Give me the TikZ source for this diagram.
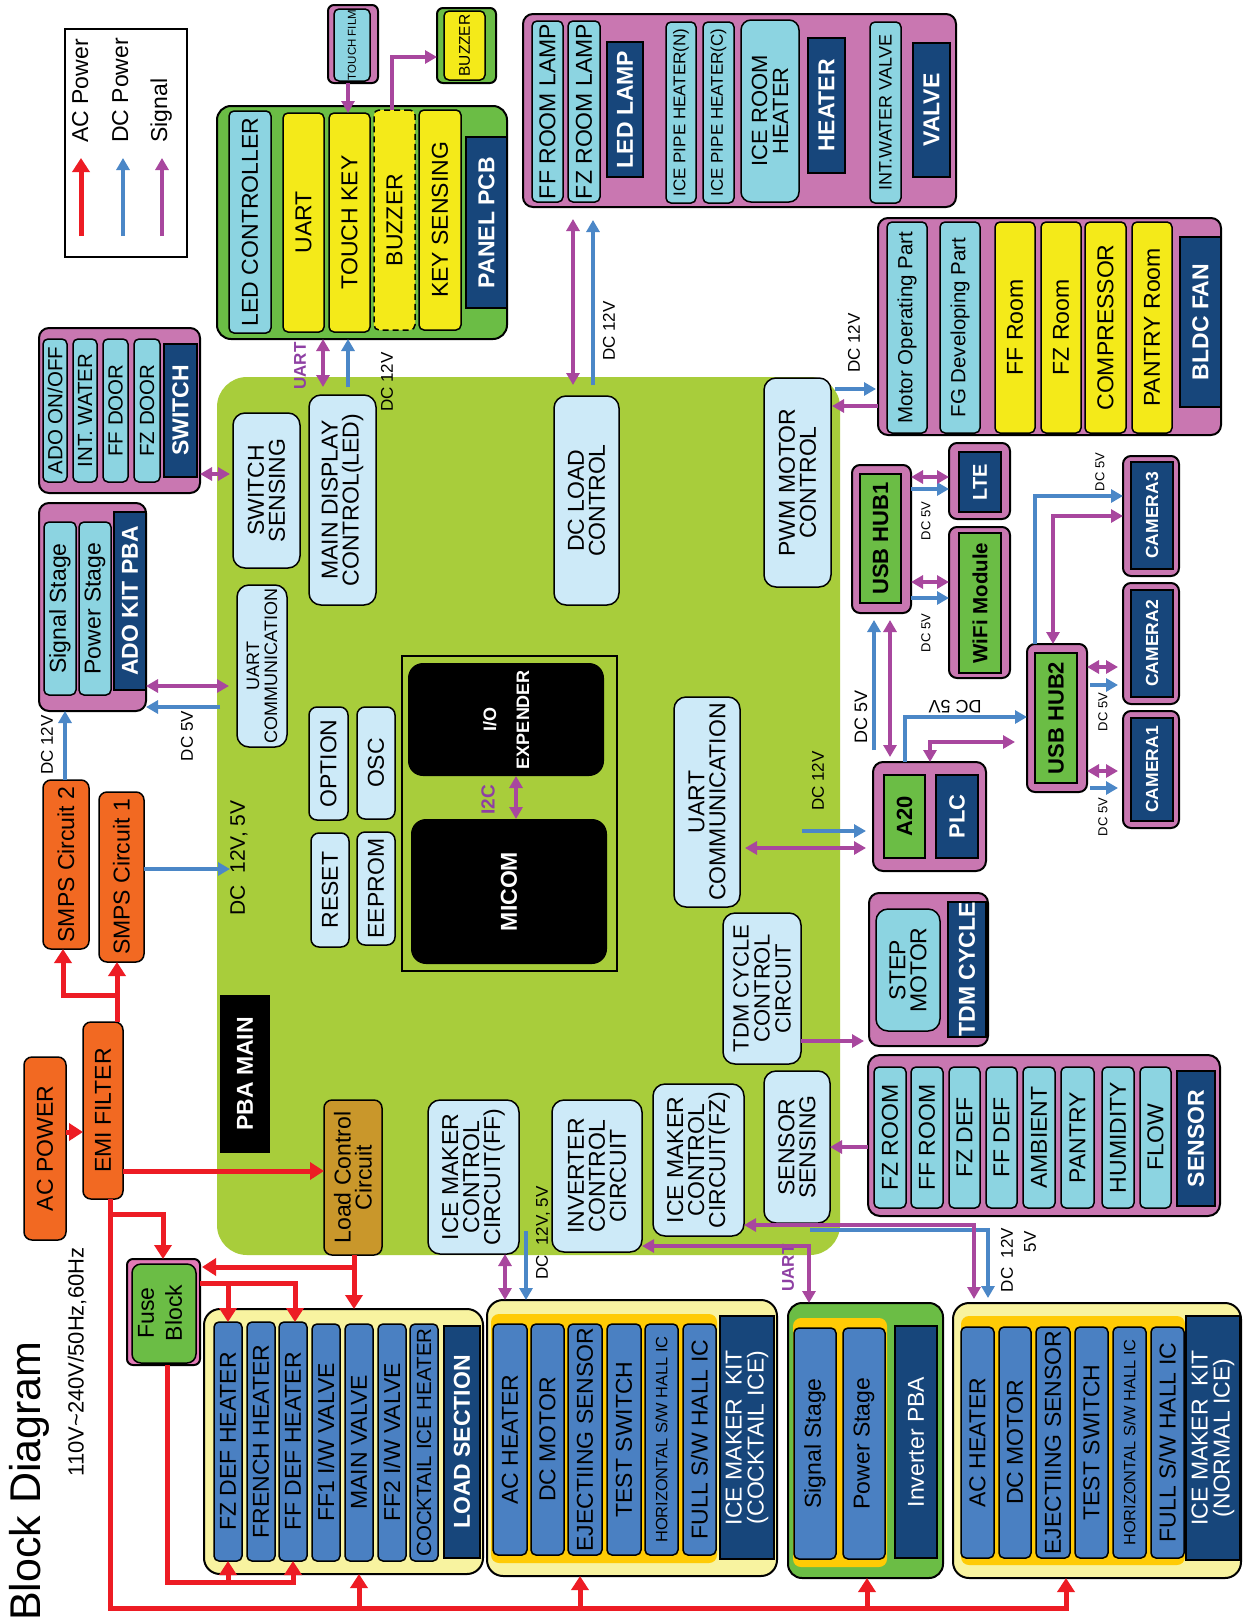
\documentclass[tikz,border=0pt]{standalone}
\usepackage{fontspec}
\setmainfont{Liberation Sans}
\usetikzlibrary{arrows.meta}
\newcommand\fs[2]{\fontsize{#1pt}{#2pt}\selectfont}
\newcommand\bb[6]{\node[#1,minimum width={#5pt-#3pt},minimum height={#6pt-#4pt}] (#2) at ({(#3+#5)/2},{(#4+#6)/2}) {};}
\newcommand\bx[8]{\bb{#1}{#2}{#3}{#4}{#5}{#6}\node[stx,#7] (#2-t) at (#2.center) {#8};}
\definecolor{cpur}{HTML}{C977B1}
\definecolor{ccyan}{HTML}{8CD4E1}
\definecolor{cnavy}{HTML}{17467B}
\definecolor{cyel}{HTML}{F4EA19}
\definecolor{cgrn}{HTML}{6BBD45}
\definecolor{cmain}{HTML}{A8CD3B}
\definecolor{clb}{HTML}{CDEAF8}
\definecolor{corg}{HTML}{F26922}
\definecolor{cbrn}{HTML}{C9972B}
\definecolor{clyel}{HTML}{F8F3A0}
\definecolor{cgold}{HTML}{FFCB05}
\definecolor{cibl}{HTML}{4A80C2}
\definecolor{cred}{HTML}{ED1C24}
\definecolor{cabl}{HTML}{4B87C7}
\definecolor{capur}{HTML}{A8479E}
\definecolor{ctpur}{HTML}{8E3FA3}
\definecolor{cpink}{HTML}{E27AB6}
\tikzset{
 sbase/.style={draw=black,line width=1.5pt,inner sep=0pt,outer sep=0pt},
 scy/.style={sbase,fill=ccyan,rounded corners=5pt},
 sye/.style={sbase,fill=cyel,rounded corners=5pt},
 sib/.style={sbase,fill=cibl,rounded corners=5pt},
 slb/.style={sbase,fill=clb,rounded corners=12pt},
 slbs/.style={sbase,fill=clb,rounded corners=8pt},
 snv/.style={sbase,fill=cnavy},
 spu/.style={sbase,line width=2pt,fill=cpur,rounded corners=10pt},
 sgi/.style={sbase,fill=cgrn},
 sgo/.style={sbase,line width=2pt,fill=cgrn,rounded corners=12pt},
 sor/.style={sbase,fill=corg,rounded corners=8pt},
 sbr/.style={sbase,fill=cbrn,rounded corners=8pt},
 sbk/.style={inner sep=0pt,outer sep=0pt,fill=black},
 sbkr/.style={inner sep=0pt,outer sep=0pt,fill=black,rounded corners=15pt},
 sly/.style={sbase,line width=2pt,fill=clyel,rounded corners=16pt},
 sgd/.style={inner sep=0pt,outer sep=0pt,fill=cgold,rounded corners=8pt},
 spk/.style={sbase,line width=2pt,fill=cpink,rounded corners=6pt},
 smain/.style={inner sep=0pt,outer sep=0pt,fill=cmain,rounded corners=30pt},
 sfr/.style={draw=black,line width=2pt,inner sep=0pt,outer sep=0pt},
 slg/.style={draw=black,line width=2pt,fill=white,inner sep=0pt,outer sep=0pt},
 stx/.style={rotate=90,align=center,inner sep=0pt,text=black},
 f23/.style={font=\fs{23}{21}},
 f22/.style={font=\fs{22}{21}},
 f20/.style={font=\fs{20.5}{20}},
 f18/.style={font=\fs{18}{18}},
 f17/.style={font=\fs{17}{17}},
 f16/.style={font=\fs{16.4}{16}},
 w23/.style={font=\fs{23}{21}\bfseries,text=white},
 w22/.style={font=\fs{22}{21}\bfseries,text=white},
 w20/.style={font=\fs{20}{20}\bfseries,text=white},
 w17/.style={font=\fs{17.5}{17}\bfseries,text=white},
 wr23/.style={font=\fs{23}{22},text=white},
 b22/.style={font=\fs{22}{21}\bfseries},
 b20/.style={font=\fs{20.5}{20}\bfseries},
 lbl/.style={stx,font=\fs{17}{17}},
 lbm/.style={stx,font=\fs{18}{18}},
 sml/.style={stx,font=\fs{13}{13}},
 ulb/.style={stx,font=\fs{17}{17}\bfseries,text=ctpur},
 arS/.style={draw=capur,line width=4pt,>={Triangle[length=12pt,width=13pt]}},
 arD/.style={draw=cabl,line width=4pt,>={Triangle[length=12pt,width=13pt]}},
 arA/.style={draw=cred,line width=5pt,>={Triangle[length=14pt,width=17pt]}},
}
\begin{document}
\begin{tikzpicture}[x=1pt,y=-1pt]
\fill[white] (0,0) rectangle (1248,1622);
\useasboundingbox (0,0) rectangle (1248,1622);

% ---------- main board ----------
\bb{smain}{mainbx}{217}{377}{840}{1255}

% ---------- legend ----------
\bb{slg}{lgbox}{65}{29}{187}{257}
\node[stx,f23,anchor=base west] (lgac) at (88,143) {AC Power};
\node[stx,f23,anchor=base west] (lgdc) at (128,143) {DC Power};
\node[stx,f23,anchor=base west] (lgsg) at (167,143) {Signal};
\draw[arA,->] (81,236) -- (81,158);
\draw[arD,->] (123,236) -- (123,158);
\draw[arS,->] (162,236) -- (162,158);

% ---------- panel pcb ----------
\bb{sgo,rounded corners=14pt}{pnl}{217}{106}{507}{339}
\bx{scy}{ledctl}{229}{111}{271}{333}{f23}{LED CONTROLLER}
\bx{sye}{uart}{283}{113}{324}{332}{f23}{UART}
\bx{sye}{tkey}{329}{113}{370}{332}{f23}{TOUCH KEY}
\bx{sye,dash pattern=on 6pt off 4pt}{buzz}{374}{110}{415}{330}{f23}{BUZZER}
\bx{sye}{ksens}{419}{110}{461}{330}{f23}{KEY SENSING}
\bx{snv}{pcbt}{466}{137}{507}{308}{w23}{PANEL PCB}
\bb{spu,rounded corners=6pt}{tfo}{328}{5}{378}{83}
\bx{scy}{tfi}{334}{9}{370}{81}{font=\fs{11.5}{11}}{TOUCH FILM}
\bb{sgo,rounded corners=6pt}{bzo}{437}{8}{496}{83}
\bx{sye}{bzi}{444}{11}{485}{80}{font=\fs{15.5}{15}}{BUZZER}

% ---------- switch ----------
\bb{spu}{swo}{39}{328}{200}{493}
\bx{scy}{sw1}{43}{339}{67}{482}{f20}{ADO ON/OFF}
\bx{scy}{sw2}{73}{339}{97}{482}{f20}{INT. WATER}
\bx{scy}{sw3}{103}{339}{128}{482}{f20}{FF DOOR}
\bx{scy}{sw4}{134}{339}{160}{482}{f20}{FZ DOOR}
\bx{snv}{swt}{164}{344}{197}{477}{w23}{SWITCH}

% ---------- ado kit ----------
\bb{spu}{adoo}{39}{503}{146}{711}
\bx{scy}{ado1}{44}{522}{76}{695}{f23}{Signal Stage}
\bx{scy}{ado2}{79}{522}{111}{695}{f23}{Power Stage}
\bx{snv}{adot}{114}{512}{146}{690}{w23}{ADO KIT PBA}

% ---------- power ----------
\bx{sor}{smps2}{43}{780}{89}{949}{f23}{SMPS Circuit 2}
\bx{sor}{smps1}{99}{792}{144}{962}{f23}{SMPS Circuit 1}
\bx{sor}{emi}{83}{1022}{123}{1199}{f23}{EMI FILTER}
\bx{sor}{acp}{24}{1057}{66}{1240}{f23}{AC POWER}

% ---------- main board contents ----------
\bx{sbk}{pbam}{220}{995}{270}{1153}{w23}{PBA MAIN}
\bx{sbr}{ldc}{324}{1100}{382}{1255}{f23}{Load Control\\Circuit}
\bx{slb}{swsens}{233}{413}{300}{568}{f23}{SWITCH\\SENSING}
\bx{slb}{mdisp}{309}{395}{376}{605}{f23}{MAIN DISPLAY\\CONTROL(LED)}
\bx{slb}{uartl}{237}{585}{287}{747}{f18}{UART\\COMMUNICATION}
\bx{slbs}{opt}{309}{707}{348}{820}{f23}{OPTION}
\bx{slbs}{osc}{357}{707}{395}{819}{f23}{OSC}
\bx{slbs}{rst}{311}{833}{349}{947}{f23}{RESET}
\bx{slbs}{eep}{357}{832}{395}{945}{f23}{EEPROM}
\bb{sfr}{iofr}{402}{656}{617}{971}
\bx{sbkr}{ioex}{408}{663}{604}{776}{font=\fs{18}{33}\bfseries,text=white}{I/O\\EXPENDER}
\bx{sbkr}{micom}{411}{819}{607}{964}{w23}{MICOM}
\bx{slb}{dcl}{554}{396}{619}{605}{f23}{DC LOAD\\CONTROL}
\bx{slb}{pwm}{764}{378}{831}{587}{f23}{PWM MOTOR\\CONTROL}
\bx{slb}{uartr}{674}{697}{740}{907}{f23}{UART\\COMMUNICATION}
\bx{slb}{tdmc}{723}{913}{801}{1064}{f22}{TDM CYCLE\\CONTROL\\CIRCUIT}
\bx{slb}{ssens}{764}{1071}{830}{1223}{f23}{SENSOR\\SENSING}
\bx{slb}{icefz}{653}{1084}{744}{1236}{f23}{ICE MAKER\\CONTROL\\CIRCUIT(FZ)}
\bx{slb}{invc}{552}{1100}{642}{1252}{f23}{INVERTER\\CONTROL\\CIRCUIT}
\bx{slb}{iceff}{428}{1100}{519}{1254}{f23}{ICE MAKER\\CONTROL\\CIRCUIT(FF)}

% ---------- led lamp / heater / valve ----------
\bb{spu}{ledo}{523}{14}{956}{207}
\bx{scy}{fflamp}{532}{21}{563}{202}{f23}{FF ROOM LAMP}
\bx{scy}{fzlamp}{568}{21}{600}{202}{f23}{FZ ROOM LAMP}
\bx{snv}{ledt}{607}{42}{643}{177}{w23}{LED LAMP}
\bx{scy}{iphn}{666}{22}{696}{203}{f17}{ICE PIPE HEATER(N)}
\bx{scy}{iphc}{703}{22}{734}{203}{f17}{ICE PIPE HEATER(C)}
\bx{scy,rounded corners=10pt}{irh}{741}{20}{799}{202}{f22}{ICE ROOM\\HEATER}
\bx{snv}{htt}{808}{38}{845}{173}{w23}{HEATER}
\bx{scy}{iwv}{870}{22}{901}{203}{f18}{INT.WATER VALVE}
\bx{snv}{vlt}{913}{43}{950}{177}{w23}{VALVE}

% ---------- bldc fan ----------
\bb{spu}{bldco}{878}{218}{1221}{435}
\bx{scy}{mop}{887}{222}{927}{433}{f20}{Motor Operating Part}
\bx{scy}{fgd}{940}{222}{980}{433}{f20}{FG Developing Part}
\bx{sye}{ffr}{995}{222}{1035}{433}{f23}{FF Room}
\bx{sye}{fzr}{1041}{222}{1081}{433}{f23}{FZ Room}
\bx{sye}{comp}{1085}{222}{1126}{433}{f23}{COMPRESSOR}
\bx{sye}{pantr}{1132}{222}{1172}{433}{f23}{PANTRY Room}
\bx{snv}{bldct}{1180}{237}{1221}{407}{w23}{BLDC FAN}

% ---------- usb / camera / plc ----------
\bb{spu,rounded corners=8pt}{hub1o}{852}{465}{911}{613}
\bx{sgi}{hub1}{860}{474}{901}{603}{b22}{USB HUB1}
\bb{spu,rounded corners=8pt}{lteo}{949}{443}{1010}{519}
\bx{snv}{lte}{959}{452}{1001}{512}{w20}{LTE}
\bb{spu,rounded corners=8pt}{wifio}{949}{527}{1010}{678}
\bx{sgi}{wifi}{959}{533}{1001}{673}{b20}{WiFi Module}
\bb{spu,rounded corners=8pt}{hub2o}{1027}{644}{1087}{792}
\bx{sgi}{hub2}{1035}{653}{1077}{783}{b22}{USB HUB2}
\bb{spu,rounded corners=8pt}{cam3o}{1123}{456}{1179}{576}
\bx{snv}{cam3}{1131}{462}{1173}{569}{w17}{CAMERA3}
\bb{spu,rounded corners=8pt}{cam2o}{1123}{583}{1179}{704}
\bx{snv}{cam2}{1131}{590}{1173}{697}{w17}{CAMERA2}
\bb{spu,rounded corners=8pt}{cam1o}{1123}{711}{1179}{828}
\bx{snv}{cam1}{1131}{718}{1173}{821}{w17}{CAMERA1}
\bb{spu}{a20o}{873}{762}{986}{871}
\bx{sgi}{a20}{884}{775}{925}{858}{b22}{A20}
\bx{snv}{plc}{936}{775}{978}{858}{w22}{PLC}

% ---------- step motor ----------
\bb{spu}{stepo}{869}{893}{988}{1046}
\bx{scy,rounded corners=12pt}{step}{876}{909}{940}{1031}{f23}{STEP\\MOTOR}
\bx{snv}{tdmt}{948}{902}{986}{1037}{w23}{TDM CYCLE}

% ---------- sensor ----------
\bb{spu,rounded corners=12pt}{senso}{868}{1055}{1220}{1216}
\bx{scy}{se1}{874}{1067}{906}{1208}{f23}{FZ ROOM}
\bx{scy}{se2}{911}{1067}{943}{1208}{f23}{FF ROOM}
\bx{scy}{se3}{949}{1067}{980}{1208}{f23}{FZ DEF}
\bx{scy}{se4}{986}{1067}{1017}{1208}{f23}{FF DEF}
\bx{scy}{se5}{1023}{1067}{1055}{1208}{f23}{AMBIENT}
\bx{scy}{se6}{1061}{1067}{1094}{1208}{f23}{PANTRY}
\bx{scy}{se7}{1102}{1067}{1134}{1208}{f23}{HUMIDITY}
\bx{scy}{se8}{1140}{1067}{1171}{1208}{f23}{FLOW}
\bx{snv}{sent}{1177}{1071}{1215}{1206}{w23}{SENSOR}

% ---------- fuse ----------
\bb{spk}{fuseo}{127}{1259}{200}{1365}
\bb{sgi,rounded corners=9pt}{fuse}{132}{1264}{196}{1363}
\node[stx,font=\fs{23}{28}] (fuse-t) at (160,1313) {Fuse\\Block};

% ---------- load section ----------
\bb{sly}{loado}{204}{1309}{483}{1574}
\bx{sib}{ld1}{214}{1322}{242}{1561}{f23}{FZ DEF HEATER}
\bx{sib}{ld2}{247}{1322}{275}{1561}{f23}{FRENCH HEATER}
\bx{sib}{ld3}{279}{1322}{307}{1561}{f23}{FF DEF HEATER}
\bx{sib}{ld4}{312}{1324}{340}{1561}{f23}{FF1 I/W VALVE}
\bx{sib}{ld5}{345}{1324}{373}{1561}{f23}{MAIN VALVE}
\bx{sib}{ld6}{378}{1324}{406}{1561}{f23}{FF2 I/W VALVE}
\bx{sib}{ld7}{410}{1324}{438}{1561}{f20}{COCKTAIL ICE HEATER}
\bx{snv}{ldt}{444}{1326}{480}{1558}{w23}{LOAD SECTION}

% ---------- cocktail ice kit ----------
\bb{sly}{cko}{487}{1300}{777}{1576}
\bb{sgd}{ckg}{491}{1314}{717}{1563}
\bx{sib}{ck1}{493}{1324}{527}{1555}{f23}{AC HEATER}
\bx{sib}{ck2}{531}{1324}{564}{1555}{f23}{DC MOTOR}
\bx{sib}{ck3}{568}{1324}{602}{1555}{f23}{EJECTIING SENSOR}
\bx{sib}{ck4}{607}{1324}{641}{1555}{f23}{TEST SWITCH}
\bx{sib}{ck5}{645}{1324}{678}{1555}{f16}{HORIZONTAL S/W HALL IC}
\bx{sib}{ck6}{683}{1324}{716}{1555}{f23}{FULL S/W HALL IC}
\bx{snv}{ckt}{720}{1316}{774}{1559}{wr23}{ICE MAKER\ \ KIT\\(COCKTAIL ICE)}

% ---------- inverter pba ----------
\bb{sgo,rounded corners=14pt}{invo}{788}{1303}{943}{1578}
\bb{sgd}{invg}{793}{1318}{887}{1567}
\bx{sib}{invs}{794}{1328}{836}{1559}{f23}{Signal Stage}
\bx{sib}{invp}{843}{1328}{885}{1559}{f23}{Power Stage}
\bx{snv}{invt}{895}{1326}{937}{1558}{wr23}{Inverter PBA}

% ---------- normal ice kit ----------
\bb{sly}{nko}{953}{1303}{1241}{1578}
\bb{sgd}{nkg}{961}{1316}{1185}{1565}
\bx{sib}{nk1}{961}{1327}{994}{1558}{f23}{AC HEATER}
\bx{sib}{nk2}{999}{1327}{1031}{1558}{f23}{DC MOTOR}
\bx{sib}{nk3}{1036}{1327}{1070}{1558}{f23}{EJECTIING SENSOR}
\bx{sib}{nk4}{1075}{1327}{1108}{1558}{f23}{TEST SWITCH}
\bx{sib}{nk5}{1113}{1327}{1146}{1558}{f16}{HORIZONTAL S/W HALL IC}
\bx{sib}{nk6}{1151}{1327}{1184}{1558}{f23}{FULL S/W HALL IC}
\bx{snv}{nkt}{1186}{1316}{1240}{1560}{wr23}{ICE MAKER\ \ KIT\\(NORMAL ICE)}

% ---------- titles ----------
\node[stx,font=\fs{43}{43}] (title) at (29,1481) {Block Diagram};
\node[stx,font=\fs{22}{22}] (volt) at (77,1362) {110V\textasciitilde 240V/50Hz,60Hz};

% ---------- labels ----------
\node[ulb] (lbu1) at (300,366) {UART};
\node[lbl] (lb1) at (387,382) {DC 12V};
\node[lbl] (lb3) at (609,331) {DC 12V};
\node[lbl] (lb4) at (854,343) {DC 12V};
\node[sml] (lb5) at (926,521) {DC 5V};
\node[sml] (lb6) at (926,633) {DC 5V};
\node[lbm] (lb7) at (861,717) {DC 5V};
\node[inner sep=0pt,font=\fs{18}{18},rotate=180] (lb8) at (955,707) {DC 5V};
\node[sml] (lb9) at (1100,472) {DC 5V};
\node[sml] (lb10) at (1103,712) {DC 5V};
\node[sml] (lb11) at (1103,817) {DC 5V};
\node[lbl] (lb12) at (818,781) {DC 12V};
\node[lbl] (lb13) at (47,745) {DC 12V};
\node[lbl] (lb14) at (187,736) {DC 5V};
\node[stx,font=\fs{21}{21}] (lb15) at (239,858) {DC\ \ 12V, 5V};
\node[ulb] (lbu2) at (788,1268) {UART};
\node[lbl] (lb17) at (543,1233) {DC\ \ 12V, 5V};
\node[lbl] (lb18) at (1007,1260) {DC\ \ 12V};
\node[lbl] (lb19) at (1030,1242) {5V};
\node[stx,font=\fs{19}{19}\bfseries,text=ctpur] (lbi2c) at (488,800) {I2C};

% ---------- AC power connectors ----------
\draw[arA,->] (acp.east |- 0,1132) -- (emi.west |- 0,1132);
\draw[arA,->] (emi.north -| 117,0) -- (smps1.south -| 117,0);
\draw[arA,->] (117,995) -- (63,995) -- (smps2.south -| 63,0);
\draw[arA,->] (emi.east |- 0,1171) -- (ldc.west |- 0,1171);
\draw[arA,->] (emi.south -| 110,0) -- (110,1608) -- (1066,1608) -- (nko.south -| 1066,0);
\draw[arA,->] (359,1608) -- (loado.south -| 359,0);
\draw[arA,->] (580,1608) -- (cko.south -| 580,0);
\draw[arA,->] (867,1608) -- (invo.south -| 867,0);
\draw[arA,->] (110,1214) -- (163,1214) -- (fuseo.north -| 163,0);
\draw[arA,->] (ldc.south -| 354,0) -- (loado.north -| 354,0);
\draw[arA,->,shorten >=2pt] (354,1267) -- (fuseo.east |- 0,1267);
\draw[arA,->] (fuseo.east |- 0,1283) -- (295,1283) -- (ld3.north -| 295,0);
\draw[arA,->] (228,1283) -- (ld1.north -| 228,0);
\draw[arA,->] (fuseo.south -| 167,0) -- (167,1582) -- (293,1582) -- (ld3.south -| 293,0);
\draw[arA,->] (228,1582) -- (ld1.south -| 228,0);

% ---------- DC power connectors ----------
\draw[arD,->,shorten <=8pt] (mdisp.north -| 348,0) -- (pnl.south -| 348,0);
\draw[arD,->,shorten <=17pt] (uartl.west |- 0,707) -- (adoo.east |- 0,707);
\draw[arD,->] (smps2.north -| 65,0) -- (adoo.south -| 65,0);
\draw[arD,->] (smps1.east |- 0,869) -- (230,869);
\draw[arD,->,shorten <=11pt,shorten >=13pt] (dcl.north -| 593,0) -- (ledo.south -| 593,0);
\draw[arD,->,shorten <=4pt,shorten >=2pt] (pwm.east |- 0,389) -- (bldco.west |- 0,389);
\draw[arD,->] (hub1o.east |- 0,489) -- (lteo.west |- 0,489);
\draw[arD,->] (hub1o.east |- 0,598) -- (wifio.west |- 0,598);
\draw[arD,->,shorten <=12pt,shorten >=7pt] (a20o.north -| 874,0) -- (hub1o.south -| 874,0);
\draw[arD,->] (a20o.north -| 905,0) -- (905,717) -- (hub2o.west |- 0,717);
\draw[arD,->] (hub2o.north -| 1035,0) -- (1035,496) -- (cam3o.west |- 0,496);
\draw[arD,->,shorten <=3pt,shorten >=5pt] (hub2o.east |- 0,685) -- (cam2o.west |- 0,685);
\draw[arD,->,shorten <=3pt,shorten >=5pt] (hub2o.east |- 0,788) -- (cam1o.west |- 0,788);
\draw[arD,->,shorten >=7pt] (802,831) -- (a20o.west |- 0,831);
\draw[arD,->] (526,1231) -- (cko.north -| 526,0);
\draw[arD,->,shorten >=5pt] (810,1230) -- (988,1230) -- (nko.north -| 988,0);

% ---------- signal connectors ----------
\draw[arS,->] (tfo.south -| 348,0) -- (tkey.north -| 348,0);
\draw[arS,->] (buzz.north -| 392,0) -- (392,57) -- (bzo.west |- 0,57);
\draw[arS,<->,shorten >=8pt] (pnl.south -| 323,0) -- (mdisp.north -| 323,0);
\draw[arS,<->,shorten >=3pt] (swo.east |- 0,474) -- (swsens.west |- 0,474);
\draw[arS,<->,shorten >=8pt] (adoo.east |- 0,686) -- (uartl.west |- 0,686);
\draw[arS,<->,shorten <=12pt,shorten >=11pt] (ledo.south -| 573,0) -- (dcl.north -| 573,0);
\draw[arS,->,shorten >=1pt] (bldco.west |- 0,406) -- (pwm.east |- 0,406);
\draw[arS,<->] (hub1o.east |- 0,477) -- (lteo.west |- 0,477);
\draw[arS,<->] (hub1o.east |- 0,582) -- (wifio.west |- 0,582);
\draw[arS,<->,shorten <=7pt,shorten >=5pt] (hub1o.south -| 890,0) -- (a20o.north -| 890,0);
\draw[arS,<->,shorten >=12pt] (a20o.north -| 930,0) -- (930,742) -- (hub2o.west |- 0,742);
\draw[arS,<->] (cam3o.west |- 0,516) -- (1053,516) -- (hub2o.north -| 1053,0);
\draw[arS,<->,shorten >=5pt] (hub2o.east |- 0,667) -- (cam2o.west |- 0,667);
\draw[arS,<->,shorten >=5pt] (hub2o.east |- 0,771) -- (cam1o.west |- 0,771);
\draw[arS,<->,shorten <=5pt,shorten >=7pt] (uartr.east |- 0,848) -- (a20o.west |- 0,848);
\draw[arS,->,shorten >=5pt] (tdmc.east |- 0,1041) -- (stepo.west |- 0,1041);
\draw[arS,->] (senso.west |- 0,1147) -- (ssens.east |- 0,1147);
\draw[arS,<->] (ioex.south -| 516,0) -- (micom.north -| 516,0);
\draw[arS,<->] (iceff.south -| 505,0) -- (cko.north -| 505,0);
\draw[arS,<->] (invc.east |- 0,1246) -- (809,1246) -- (invo.north -| 809,0);
\draw[arS,<->,shorten >=4pt] (icefz.east |- 0,1225) -- (974,1225) -- (nko.north -| 974,0);
\end{tikzpicture}
\end{document}
